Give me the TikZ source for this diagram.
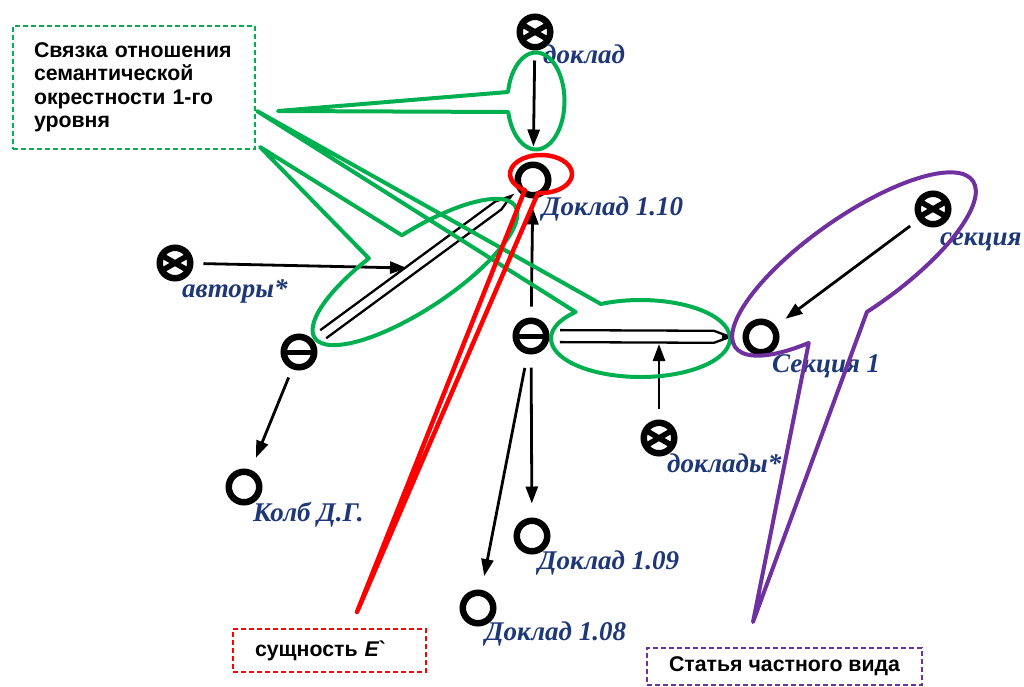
\documentclass[tikz,border=0pt]{standalone}
\usepackage{fontspec}
\setmainfont{Liberation Serif}
\setsansfont{Liberation Sans}
\usetikzlibrary{arrows.meta,calc}
\definecolor{cgreen}{RGB}{0,176,80}
\definecolor{cred}{RGB}{255,0,0}
\definecolor{cpurple}{RGB}{112,48,160}
\definecolor{lblue}{RGB}{30,55,120}
\tikzset{
  basenode/.style={circle, draw=black, line width=6.5pt, minimum size=30.5pt, inner sep=0pt},
  ringnode/.style={basenode},
  crossnode/.style={basenode, path picture={
      \draw[line width=5.5pt] (path picture bounding box.center) ++(150:17pt) -- ++(-30:34pt);
      \draw[line width=5.5pt] (path picture bounding box.center) ++(30:17pt) -- ++(210:34pt);}},
  minusnode/.style={basenode, path picture={
      \draw[line width=5pt] (path picture bounding box.west) -- (path picture bounding box.east);}},
  lbl/.style={anchor=base west, inner sep=0pt, text=lblue, font=\fontsize{27}{27}\selectfont\bfseries\itshape},
  arr/.style={line width=2.8pt, -{Triangle[length=17pt,width=12pt]}},
  dblline/.style={line width=2.3pt, line join=miter},
  callg/.style={draw=cgreen, line width=4pt, line join=round},
  callr/.style={draw=cred, line width=4.5pt, line join=round},
  callp/.style={draw=cpurple, line width=4pt, line join=round},
  notebox/.style={rectangle, line width=1.5pt, dash pattern=on 5pt off 3pt, inner sep=0pt,
      font=\sffamily\bfseries\fontsize{21.3}{23.5}\selectfont},
}
\newcommand\dblarrow[5]{%
  \coordinate (dS) at ($(#1)!#3!(#2)$);
  \coordinate (dE) at ($(#2)!#4!(#1)$);
  \coordinate (dB) at ($(dE)!16pt!(dS)$);
  \coordinate (dT) at ($(dE)!8pt!(dS)$);
  \draw[dblline] ($(dS)!#5!90:(dE)$) -- ($(dB)!#5!90:(dE)$) -- (dE) -- ($(dB)!#5!-90:(dE)$) -- ($(dS)!#5!-90:(dE)$);
  \fill ($(dT)!#5*0.6!90:(dE)$) -- (dE) -- ($(dT)!#5*0.6!-90:(dE)$) -- cycle;
}
\newcommand\callout[8]{%
  \begin{scope}[shift={#2}, rotate=#3]
    \draw[#1] (#6:#4 and #5) arc[start angle=#6, end angle=#7, x radius=#4, y radius=#5] -- (#8) -- cycle;
  \end{scope}}
\begin{document}
\begin{tikzpicture}[x=1pt,y=-1pt]
\useasboundingbox (0,0) rectangle (1024,686);

% entity nodes
\node[crossnode] (dk) at (535,32) {};
\node[ringnode] (d110) at (533,180) {};
\node[crossnode] (avt) at (175,263) {};
\node[minusnode] (lm) at (299,352) {};
\node[minusnode] (cm) at (531,336) {};
\node[ringnode] (s1) at (761,337) {};
\node[crossnode] (sek) at (933,209) {};
\node[crossnode] (dks) at (659,438) {};
\node[ringnode] (kolb) at (244,487) {};
\node[ringnode] (d109) at (532,536) {};
\node[ringnode] (d108) at (478,608) {};

% labels
\node[lbl] (ldk) at (543,63) {доклад};
\node[lbl] (l110) at (542,215) {Доклад 1.10};
\node[lbl] (lavt) at (182,297) {авторы*};
\node[lbl] (ls1) at (772,372) {Секция 1};
\node[lbl] (lsek) at (940,245) {секция};
\node[lbl] (ldks) at (667,472) {доклады*};
\node[lbl] (lkolb) at (253,521) {Колб Д.Г.};
\node[lbl] (l109) at (538,569) {Доклад 1.09};
\node[lbl] (l108) at (485,640) {Доклад 1.08};

% double (link) arrows
\dblarrow{lm}{d110}{30pt}{27pt}{5pt}
\dblarrow{cm}{s1}{29pt}{31pt}{6pt}
\coordinate (aT) at (407,268);
\coordinate (kT) at (659,344);

% arrows
\draw[arr, shorten <=10pt, shorten >=15pt] (dk) -- (d110);
\draw[arr, shorten <=11pt, shorten >=9pt] (cm) -- (d110);
\draw[arr, shorten <=10pt] (avt) -- (aT);
\draw[arr, shorten <=11pt] (dks) -- (kT);
\draw[arr, shorten <=10pt, shorten >=12pt] (sek) -- (s1);
\draw[arr, shorten <=9pt, shorten >=13pt] (lm) -- (kolb);
\draw[arr, shorten <=13pt, shorten >=14pt] (cm) -- (d109);
\draw[arr, shorten <=14pt, shorten >=14pt] (cm) -- (d108);

% callout tips
\coordinate (tipg1) at (278,111);
\coordinate (tipg2) at (260,147);
\coordinate (tipg3) at (257,111);
\coordinate (tipr) at (357,612);
\coordinate (tipp) at (753,622);

% green callouts
\callout{callg}{(536,101)}{0}{28.5}{48.5}{190.7}{526.9}{tipg1}
\callout{callg}{(415,272)}{33.3}{120}{38}{-85.6}{255}{tipg2}
\callout{callg}{(640.5,338.5)}{0}{89.5}{38.5}{243.7}{583.5}{tipg3}
% red callout
\callout{callr}{(541,174)}{0}{31}{19}{121.5}{455.5}{tipr}
% purple callout
\callout{callp}{(854,264)}{35}{145}{47}{124.6}{456.7}{tipp}

% note boxes
\node[notebox, draw=cgreen, minimum width=242pt, minimum height=123pt, text width=200pt, align=left] (ngreen) at (134,87.5)
  {Связка отношения\\семантической\\окрестности 1-го\\уровня};
\node[notebox, draw=cred, minimum width=193pt, minimum height=43pt, text width=149pt, align=left] (nred) at (329.5,650.5)
  {сущность {\itshape E}\textasciigrave};
\node[notebox, draw=cpurple, minimum width=275pt, minimum height=37pt, align=center] (npurple) at (784.5,666.5)
  {Статья частного вида};
\end{tikzpicture}
\end{document}
